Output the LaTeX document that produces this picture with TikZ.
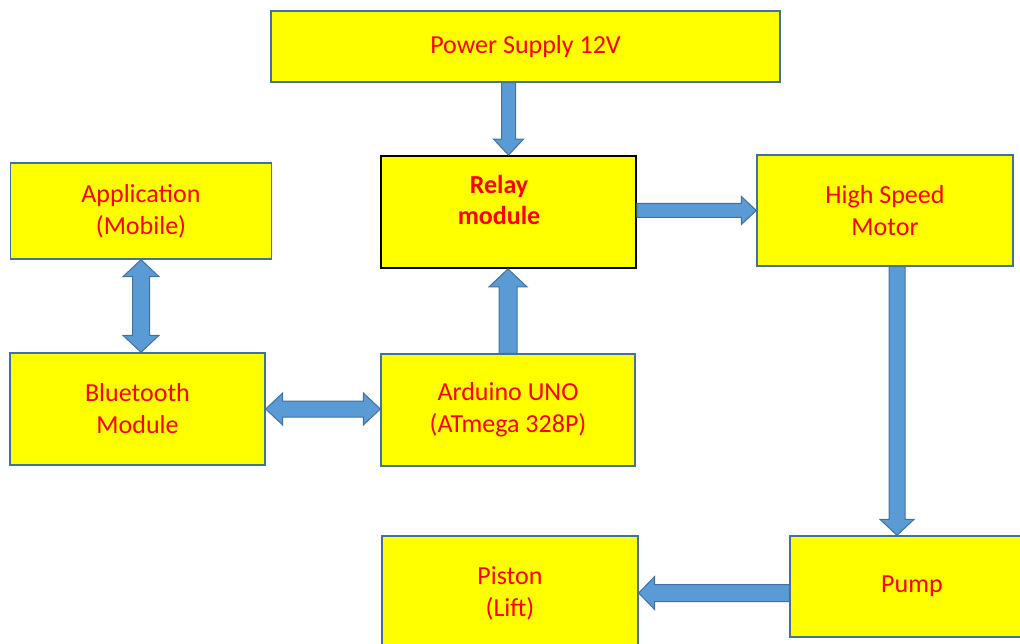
\documentclass[tikz,border=0pt]{standalone}
\usepackage{fontspec}
\setmainfont{Carlito}
\usetikzlibrary{calc}
\definecolor{boxfill}{HTML}{FFFF00}
\definecolor{boxline}{HTML}{41719C}
\definecolor{arrfill}{HTML}{5B9BD5}
\definecolor{arrline}{HTML}{41719C}
\definecolor{txtred}{HTML}{FF0000}
\tikzset{
  box/.style={draw=boxline, line width=1.3pt, fill=boxfill, rectangle, inner sep=0pt,
    text=txtred, align=center, font=\fontsize{26}{32}\selectfont},
  blockarrow/.style={draw=arrline, fill=arrfill, line width=1pt, line join=miter},
}
\newcommand{\sarrow}[5]{%
  \coordinate (sa-s) at #1;
  \coordinate (sa-e) at #2;
  \coordinate (sa-h) at ($(sa-e)!#5!(sa-s)$);
  \draw[blockarrow] ($(sa-s)!#3!90:(sa-e)$) -- ($(sa-h)!#3!90:(sa-e)$) -- ($(sa-h)!#4!90:(sa-e)$) -- (sa-e) -- ($(sa-h)!#4!-90:(sa-e)$) -- ($(sa-h)!#3!-90:(sa-e)$) -- ($(sa-s)!#3!-90:(sa-e)$) -- cycle;
}
\newcommand{\darrow}[5]{%
  \coordinate (da-s) at #1;
  \coordinate (da-e) at #2;
  \coordinate (da-h) at ($(da-e)!#5!(da-s)$);
  \coordinate (da-g) at ($(da-s)!#5!(da-e)$);
  \draw[blockarrow] ($(da-g)!#3!90:(da-e)$) -- ($(da-h)!#3!90:(da-e)$) -- ($(da-h)!#4!90:(da-e)$) -- (da-e) -- ($(da-h)!#4!-90:(da-e)$) -- ($(da-h)!#3!-90:(da-e)$) -- ($(da-g)!#3!-90:(da-e)$) -- ($(da-g)!#4!-90:(da-e)$) -- (da-s) -- ($(da-g)!#4!90:(da-e)$) -- cycle;
}
\begin{document}
\begin{tikzpicture}[x=1pt, y=-1pt]
\useasboundingbox (0,0) rectangle (1020,644);
\clip (0,0) rectangle (1020,644);
\node[box, minimum width=509pt, minimum height=71pt] (power) at (525.5,46.5) {Power Supply 12V};
\node[box, draw=black, line width=1.8pt, minimum width=255pt, minimum height=112pt] (relay) at (508.5,212) {};
\node[text=txtred, align=center, font=\fontsize{26}{31}\bfseries\selectfont, inner sep=0pt] (relaytxt) at (499,200) {Relay\\module};
\node[box, minimum width=256pt, minimum height=111pt] (motor) at (885,210.5) {High Speed\\Motor};
\node[box, minimum width=261pt, minimum height=96pt] (app) at (141,211) {Application\\(Mobile)};
\node[box, minimum width=255pt, minimum height=112pt] (bt) at (137.5,409) {Bluetooth\\Module};
\node[box, minimum width=254pt, minimum height=112pt] (arduino) at (508,410) {Arduino UNO\\(ATmega 328P)};
\node[box, minimum width=244pt, minimum height=101pt] (pump) at (912,586.5) {Pump};
\node[box, minimum width=256pt, minimum height=114pt] (piston) at (510,593) {Piston\\(Lift)};
\coordinate (mp) at ($(motor.south)+(12,0)$);
\sarrow{(power.south -| relay.north)}{(relay.north)}{7pt}{15pt}{16pt}
\sarrow{(arduino.north)}{(arduino.north |- relay.south)}{9pt}{19pt}{18pt}
\sarrow{(motor.west -| relay.east)}{(motor.west)}{7pt}{14pt}{15pt}
\sarrow{(mp)}{(mp |- pump.north)}{8pt}{17pt}{16pt}
\sarrow{(piston.east -| pump.west)}{(piston.east)}{8.5pt}{16.5pt}{16pt}
\darrow{(bt.east)}{(bt.east -| arduino.west)}{8pt}{16pt}{17pt}
\darrow{(app.south)}{(app.south |- bt.north)}{8.5pt}{18pt}{17pt}
\end{tikzpicture}
\end{document}
